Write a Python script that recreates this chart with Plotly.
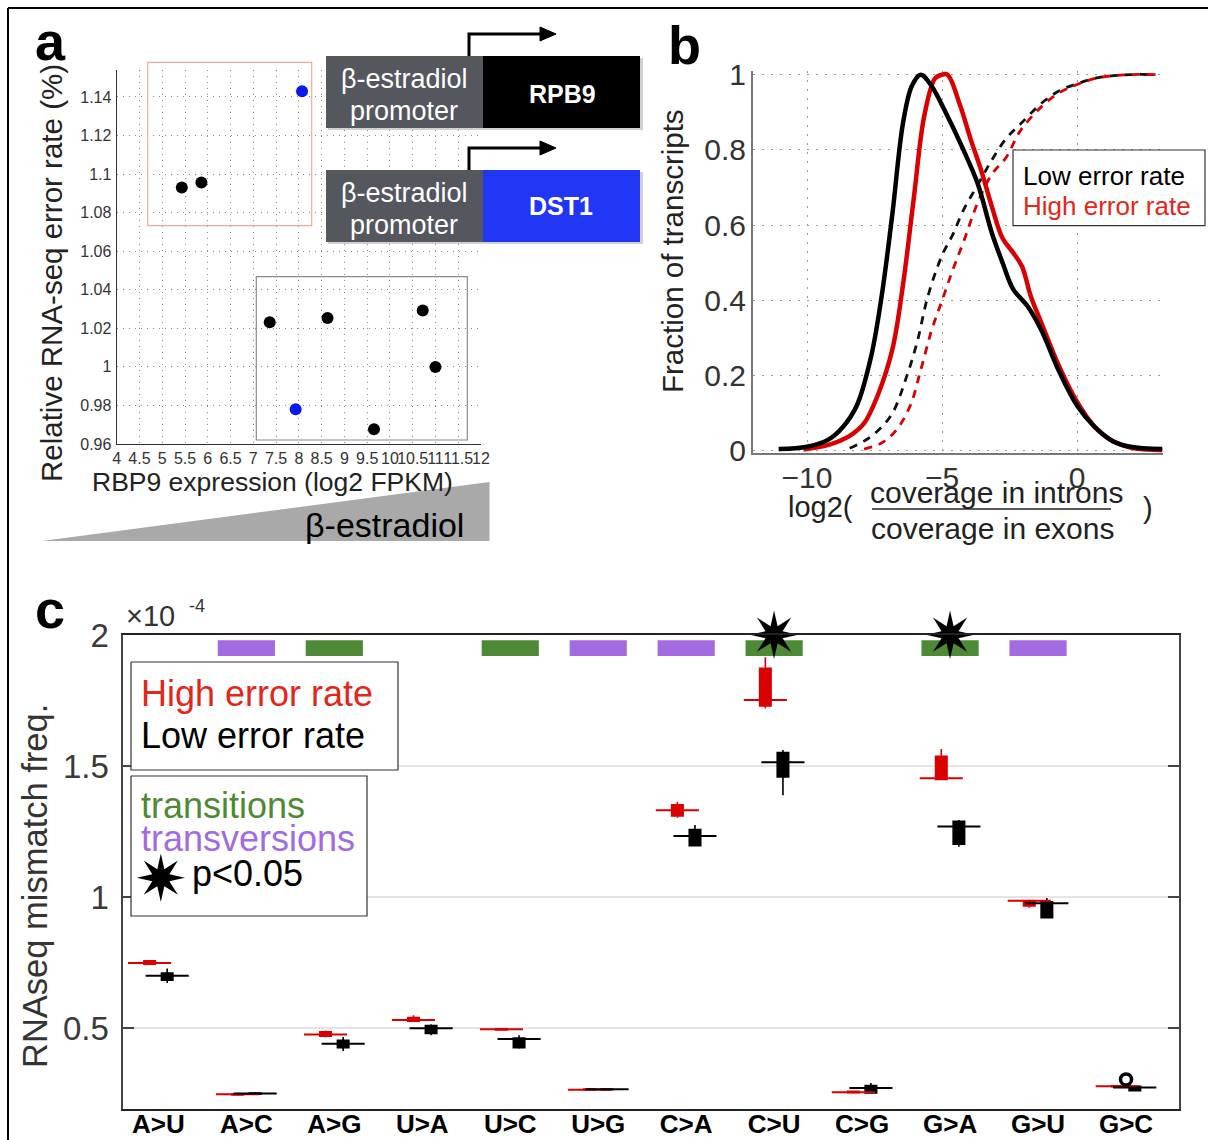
import plotly.graph_objects as go

W, H = 1208, 1140


def X(px):
    return px / W


def Y(py):
    return 1 - py / H


FONT = "Liberation Sans"
STAR_FONT = "DejaVu Sans"
STAR = "\u2737"
RED = "#d80000"
RED_TXT = "#e2261a"
GREEN = "#4e8a36"
PURPLE = "#a26be0"
BLUE = "#0b18f2"

# ---------------- panel a data ----------------
expr_black = [5.43, 5.86, 7.36, 8.63, 10.72, 11.0, 9.65]
err_black = [1.093, 1.0957, 1.0232, 1.0253, 1.0293, 1.0, 0.9676]
expr_blue = [8.07, 7.93]
err_blue = [1.143, 0.978]
a_xticks = [4, 4.5, 5, 5.5, 6, 6.5, 7, 7.5, 8, 8.5, 9, 9.5, 10, 10.5, 11, 11.5, 12]
a_xticktext = ["4", "4.5", "5", "5.5", "6", "6.5", "7", "7.5", "8", "8.5", "9", "9.5",
               "10", "10.5", "11", "11.5", "12"]
a_yticks = [0.96, 0.98, 1.0, 1.02, 1.04, 1.06, 1.08, 1.1, 1.12, 1.14]
a_yticktext = ["0.96", "0.98", "1", "1.02", "1.04", "1.06", "1.08", "1.1", "1.12", "1.14"]

# ---------------- panel b data ----------------
low_pdf_x = [-11.05, -10.0, -9.21, -8.68, -8.16, -7.63, -7.24, -6.84, -6.45, -6.12, -5.79,
             -5.39, -4.87, -4.21, -3.68, -3.16, -2.76, -2.37, -1.84, -1.32, -0.66, 0.0,
             0.66, 1.32, 1.97, 3.16]
low_pdf_y = [0.005, 0.011, 0.03, 0.063, 0.12, 0.25, 0.41, 0.63, 0.87, 0.97, 1.0,
             0.97, 0.90, 0.80, 0.71, 0.58, 0.50, 0.43, 0.385, 0.32, 0.21, 0.12,
             0.063, 0.026, 0.011, 0.005]
high_pdf_x = [-10.13, -9.21, -8.42, -7.89, -7.37, -6.84, -6.45, -6.05, -5.66, -5.26, -5.0,
              -4.8, -4.34, -3.95, -3.55, -3.16, -2.76, -2.37, -2.04, -1.71, -1.32, -0.66,
              0.0, 0.66, 1.32, 1.97, 3.16]
high_pdf_y = [0.004, 0.016, 0.04, 0.073, 0.15, 0.27, 0.44, 0.67, 0.89, 0.99, 1.0,
              1.0, 0.92, 0.83, 0.745, 0.65, 0.565, 0.527, 0.49, 0.41, 0.34, 0.224,
              0.13, 0.063, 0.026, 0.009, 0.002]
low_cdf_x = [-8.42, -7.89, -7.37, -6.84, -6.32, -5.92, -5.53, -5.0, -4.61, -4.21, -3.68,
             -3.16, -2.63, -2.11, -1.32, -0.66, 0.0, 0.79, 1.97, 2.9]
low_cdf_y = [0.007, 0.026, 0.054, 0.10, 0.196, 0.29, 0.41, 0.52, 0.574, 0.64, 0.707,
             0.773, 0.83, 0.868, 0.924, 0.957, 0.976, 0.992, 1.0, 1.0]
high_cdf_x = [-7.89, -7.24, -6.71, -6.18, -5.79, -5.39, -5.0, -4.61, -4.21, -3.68, -3.16,
              -2.63, -2.11, -1.32, -0.66, 0.0, 0.79, 1.97, 2.9]
high_cdf_y = [0.005, 0.021, 0.054, 0.12, 0.215, 0.32, 0.40, 0.48, 0.555, 0.66, 0.735,
              0.78, 0.85, 0.915, 0.952, 0.974, 0.992, 1.0, 1.0]
b_xticks = [-10, -5, 0]
b_xticktext = ["\u221210", "\u22125", "0"]
b_yticks = [0, 0.2, 0.4, 0.6, 0.8, 1.0]
b_yticktext = ["0", "0.2", "0.4", "0.6", "0.8", "1"]

# ---------------- panel c data (x 1e-4) ----------------
categories = ["A>U", "A>C", "A>G", "U>A", "U>C", "U>G", "C>A", "C>U", "C>G", "G>A", "G>U", "G>C"]
mut_class = [None, "tv", "ts", None, "ts", "tv", "tv", "ts", None, "ts", "tv", None]
significant = ["C>U", "G>A"]
sig_level = 1.972

high_med = [0.749, 0.248, 0.476, 0.532, 0.496, 0.266, 1.332, 1.752, 0.256, 1.454, 0.986, 0.279]
high_q1 = [0.744, 0.246, 0.470, 0.527, 0.494, 0.265, 1.310, 1.729, 0.254, 1.449, 0.967, 0.277]
high_q3 = [0.757, 0.250, 0.487, 0.541, 0.498, 0.268, 1.352, 1.873, 0.260, 1.537, 0.986, 0.281]
high_lo = [0.742, 0.245, 0.466, 0.525, 0.493, 0.264, 1.303, 1.720, 0.253, 1.447, 0.960, 0.276]
high_hi = [0.760, 0.251, 0.492, 0.550, 0.499, 0.269, 1.364, 1.915, 0.262, 1.565, 0.990, 0.282]

low_med = [0.700, 0.251, 0.441, 0.500, 0.459, 0.267, 1.233, 1.515, 0.272, 1.270, 0.977, 0.274]
low_q1 = [0.683, 0.249, 0.426, 0.480, 0.426, 0.266, 1.196, 1.459, 0.253, 1.202, 0.922, 0.262]
low_q3 = [0.711, 0.253, 0.454, 0.510, 0.463, 0.268, 1.258, 1.552, 0.282, 1.289, 0.982, 0.279]
low_lo = [0.673, 0.248, 0.413, 0.473, 0.422, 0.265, 1.195, 1.389, 0.250, 1.192, 0.920, 0.260]
low_hi = [0.728, 0.257, 0.467, 0.515, 0.473, 0.270, 1.275, 1.561, 0.291, 1.294, 0.997, 0.281]

outlier_cat = ["G>C"]
outlier_val = [0.305]

c_yticks = [0.5, 1.0, 1.5, 2.0]
c_yticktext = ["0.5", "1", "1.5", "2"]

OFF = 0.1
BOXW = 0.13
MEDW = 0.245

fig = go.Figure()

# ---------- panel a traces ----------
fig.add_trace(go.Scatter(x=expr_black, y=err_black, mode="markers",
                         marker=dict(color="black", size=12), xaxis="x", yaxis="y",
                         hoverinfo="skip"))
fig.add_trace(go.Scatter(x=expr_blue, y=err_blue, mode="markers",
                         marker=dict(color=BLUE, size=12), xaxis="x", yaxis="y",
                         hoverinfo="skip"))

# ---------- panel b traces ----------
fig.add_trace(go.Scatter(x=low_cdf_x, y=low_cdf_y, mode="lines",
                         line=dict(color="#111111", width=2.8, dash="8px,7px", shape="spline"),
                         xaxis="x2", yaxis="y2"))
fig.add_trace(go.Scatter(x=high_cdf_x, y=high_cdf_y, mode="lines",
                         line=dict(color=RED, width=2.8, dash="8px,7px", shape="spline"),
                         xaxis="x2", yaxis="y2"))
fig.add_trace(go.Scatter(x=high_pdf_x, y=high_pdf_y, mode="lines",
                         line=dict(color=RED, width=4.5, shape="spline"),
                         xaxis="x2", yaxis="y2"))
fig.add_trace(go.Scatter(x=low_pdf_x, y=low_pdf_y, mode="lines",
                         line=dict(color="black", width=4.5, shape="spline"),
                         xaxis="x2", yaxis="y2"))

# ---------- panel c traces ----------
cat_pos = {c: i + 1 for i, c in enumerate(categories)}
for cls, col in (("ts", GREEN), ("tv", PURPLE)):
    xs = [cat_pos[c] for c, k in zip(categories, mut_class) if k == cls]
    fig.add_trace(go.Bar(x=xs, y=[0.06] * len(xs), base=1.92, width=0.65,
                         marker=dict(color=col, line=dict(width=0)),
                         xaxis="x3", yaxis="y3", hoverinfo="skip"))

for med, q1, q3, lo, hi, col, off in (
        (high_med, high_q1, high_q3, high_lo, high_hi, RED, -OFF),
        (low_med, low_q1, low_q3, low_lo, low_hi, "black", OFF)):
    pos = [cat_pos[c] + off for c in categories]
    fig.add_trace(go.Box(x=pos, q1=q1, median=med, q3=q3, lowerfence=lo, upperfence=hi,
                         width=BOXW, fillcolor=col, line=dict(color=col, width=1.6),
                         whiskerwidth=0, boxpoints=False, xaxis="x3", yaxis="y3",
                         hoverinfo="skip"))
    mx, my = [], []
    for p, m in zip(pos, med):
        mx += [p - MEDW, p + MEDW, None]
        my += [m, m, None]
    fig.add_trace(go.Scatter(x=mx, y=my, mode="lines", line=dict(color=col, width=2),
                             xaxis="x3", yaxis="y3", hoverinfo="skip"))

fig.add_trace(go.Scatter(x=[cat_pos[c] for c in outlier_cat], y=outlier_val, mode="markers",
                         marker=dict(symbol="circle-open", size=11, color="black",
                                     line=dict(width=3.5, color="black")),
                         xaxis="x3", yaxis="y3", cliponaxis=False))

sig_x = [cat_pos[c] for c in significant]
sig_y = [sig_level] * len(significant)
fig.add_trace(go.Scatter(x=sig_x, y=sig_y, mode="text", text=[STAR] * len(sig_x),
                         textposition="middle center",
                         textfont=dict(family=STAR_FONT, size=64, color="black"),
                         xaxis="x3", yaxis="y3", cliponaxis=False, hoverinfo="skip"))

# ---------- panel c legend frames (overlay pixel axes, drawn above panel c) ----------
for (x0, y0, x1, y1) in ((131, 662, 398, 770), (131, 776, 367, 916)):
    fig.add_trace(go.Scatter(x=[x0, x1, x1, x0, x0], y=[y0, y0, y1, y1, y0], mode="lines",
                             fill="toself", fillcolor="white",
                             line=dict(color="#333333", width=1.2),
                             xaxis="x4", yaxis="y4", hoverinfo="skip"))
fig.add_trace(go.Scatter(x=[160.7], y=[884.5], mode="text", text=[STAR],
                         textposition="middle center",
                         textfont=dict(family=STAR_FONT, size=64, color="black"),
                         xaxis="x4", yaxis="y4", cliponaxis=False, hoverinfo="skip"))

# ---------- axes ----------
tick_a = dict(family=FONT, size=16, color="#333333")
fig.update_layout(
    xaxis=dict(domain=[X(116.7), X(481)], range=[4, 12], anchor="y", automargin=False,
               tickvals=a_xticks, ticktext=a_xticktext, tickangle=0, tickfont=tick_a,
               showgrid=True, gridcolor="#8a8a8a", griddash="1px,5px", gridwidth=1.2,
               showline=True, linecolor="#333333", linewidth=1.2, zeroline=False,
               ticks="", ticklabelstandoff=0),
    yaxis=dict(domain=[Y(444), Y(70)], range=[0.96, 1.154], anchor="x", automargin=False,
               tickvals=a_yticks, ticktext=a_yticktext, tickfont=tick_a,
               showgrid=True, gridcolor="#8a8a8a", griddash="1px,5px", gridwidth=1.2,
               showline=True, linecolor="#333333", linewidth=1.2, zeroline=False,
               ticks="", ticklabelstandoff=1),
    xaxis2=dict(domain=[X(753), X(1162.5)], range=[-12, 3.16], anchor="y2", automargin=False,
                tickvals=b_xticks, ticktext=b_xticktext, tickangle=0,
                tickfont=dict(family=FONT, size=30, color="#333333"),
                showgrid=True, gridcolor="#999999", griddash="2px,7px", gridwidth=1.4,
                showline=True, linecolor="#777777", linewidth=2, zeroline=False,
                ticks="", ticklabelstandoff=-3),
    yaxis2=dict(domain=[Y(452.8), Y(70.9)], range=[-0.005, 1.01], anchor="x2", automargin=False,
                tickvals=b_yticks, ticktext=b_yticktext,
                tickfont=dict(family=FONT, size=30, color="#333333"),
                showgrid=True, gridcolor="#999999", griddash="2px,7px", gridwidth=1.4,
                showline=True, linecolor="#777777", linewidth=2, zeroline=False,
                ticks="", ticklabelstandoff=-1),
    xaxis3=dict(domain=[X(123.2), X(1178.8)], range=[0.6, 12.6], anchor="y3", automargin=False,
                tickvals=[cat_pos[c] for c in categories], ticktext=categories, tickangle=0,
                tickfont=dict(family=FONT, size=26, color="black", weight="bold"),
                showgrid=False, showline=True, linecolor="#222222", linewidth=2,
                mirror=True, zeroline=False, ticks="", ticklabelstandoff=-10),
    yaxis3=dict(domain=[Y(1109.3), Y(635)], range=[0.191, 2.0], anchor="x3", automargin=False,
                tickvals=c_yticks, ticktext=c_yticktext,
                tickfont=dict(family=FONT, size=33, color="#3a3a3a"),
                showgrid=True, gridcolor="#e4e4e4", gridwidth=2,
                showline=True, linecolor="#444444", linewidth=1.6, mirror="ticks",
                ticks="inside", ticklen=11, tickcolor="#444444", tickwidth=1.5,
                zeroline=False, ticklabelstandoff=6),
    xaxis4=dict(domain=[0, 1], range=[0, W], visible=False, anchor="y4", fixedrange=True,
                automargin=False),
    yaxis4=dict(domain=[0, 1], range=[H, 0], visible=False, anchor="x4", fixedrange=True,
                automargin=False),
)

shapes = []
ann = []


def rect(x0, y0, x1, y1, fill=None, line=None, lw=0, layer="above"):
    shapes.append(dict(type="rect", xref="paper", yref="paper",
                       x0=X(x0), x1=X(x1), y0=Y(y1), y1=Y(y0),
                       fillcolor=fill if fill else "rgba(0,0,0,0)",
                       line=dict(color=line if line else "rgba(0,0,0,0)", width=lw),
                       layer=layer))


def text(x, y, s, size, color="black", xanchor="center", angle=0, weight="normal",
         family=FONT):
    ann.append(dict(x=X(x), y=Y(y), xref="paper", yref="paper", text=s, showarrow=False,
                    xanchor=xanchor, yanchor="middle", textangle=angle,
                    font=dict(family=family, size=size, color=color, weight=weight)))


# outer frame
shapes.append(dict(type="line", xref="paper", yref="paper", x0=X(8), x1=1.0, y0=Y(8), y1=Y(8),
                   line=dict(color="black", width=2)))
shapes.append(dict(type="line", xref="paper", yref="paper", x0=X(8), x1=X(8), y0=Y(8), y1=0,
                   line=dict(color="black", width=2)))

# panel a group frames
rect(147.7, 62.3, 311.7, 225.7, line="#f0a898", lw=1.2)
rect(256.3, 276.7, 467.3, 440, line="#8a8a8a", lw=1.2)

# promoter constructs
for top, gene_col in ((56, "black"), (170, "#2236f6")):
    rect(328, top + 2, 643, top + 74, fill="rgba(0,0,0,0.18)")
    rect(326, top, 483, top + 72, fill="#54575e")
    rect(483, top, 640, top + 72, fill=gene_col)
    shapes.append(dict(type="path", xref="paper", yref="paper",
                       path=f"M {X(469)},{Y(top)} L {X(469)},{Y(top - 22)} L {X(541)},{Y(top - 22)}",
                       line=dict(color="black", width=3)))
    shapes.append(dict(type="path", xref="paper", yref="paper",
                       path=f"M {X(540)},{Y(top - 29)} L {X(556)},{Y(top - 22)} L {X(540)},{Y(top - 15)} Z",
                       fillcolor="black", line=dict(color="black", width=1)))

text(404, 79, "β-estradiol", 27, "white")
text(404, 111, "promoter", 27, "white")
text(404, 193, "β-estradiol", 27, "white")
text(404, 225, "promoter", 27, "white")
text(562, 94, "RPB9", 25, "white", weight="bold")
text(561, 206, "DST1", 25, "white", weight="bold")

# wedge
shapes.append(dict(type="path", xref="paper", yref="paper",
                   path=f"M {X(42)},{Y(541)} L {X(489.5)},{Y(482)} L {X(489.5)},{Y(541)} Z",
                   fillcolor="#a9a9a9", line=dict(width=0)))
text(384, 525, "β-estradiol", 34, "black")

# panel a titles
text(52, 273, "Relative RNA-seq error rate (%)", 29.5, "#222222", angle=-90)
text(272, 482, "RBP9 expression (log2 FPKM)", 26.5, "#222222")

# panel letters
text(50, 41, "a", 54, weight="bold")
text(684, 45, "b", 54, weight="bold")
text(50, 609, "c", 54, weight="bold")

# panel b titles / legend
text(672, 251, "Fraction of transcripts", 29.5, "#222222", angle=-90)
text(820.8, 507, "log2(", 29, "#222222")
text(996.5, 492, "coverage in introns", 30, "#222222")
text(992.5, 528, "coverage in exons", 30, "#222222")
text(1148, 508, ")", 29, "#222222")
shapes.append(dict(type="line", xref="paper", yref="paper", x0=X(872), x1=X(1111),
                   y0=Y(509), y1=Y(509), line=dict(color="#222222", width=1.5)))
rect(1013, 150, 1205, 225.7, fill="white", line="#333333", lw=1.2)
text(1021, 175.7, "Low error rate", 26, "black", xanchor="left")
text(1021, 205.7, "High error rate", 26, RED_TXT, xanchor="left")

# panel c titles / legend text
text(35, 886, "RNAseq mismatch freq.", 34.5, "#333333", angle=-90)
text(124, 616, "\u00d710", 29, "#333333", xanchor="left")
text(187, 606, "-4", 18, "#333333", xanchor="left")
text(139, 693, "High error rate", 36, RED_TXT, xanchor="left")
text(139, 735, "Low error rate", 36, "black", xanchor="left")
text(139, 805, "transitions", 36, GREEN, xanchor="left")
text(139, 838.6, "transversions", 36, PURPLE, xanchor="left")
text(190, 873, "p<0.05", 36, "black", xanchor="left")

fig.update_layout(
    width=W, height=H, margin=dict(l=0, r=0, t=0, b=0, pad=0, autoexpand=False),
    autosize=False,
    paper_bgcolor="white", plot_bgcolor="rgba(0,0,0,0)",
    showlegend=False, barmode="overlay",
    shapes=shapes, annotations=ann,
    font=dict(family=FONT),
)

fig.write_html("out.html", config={"responsive": False})
